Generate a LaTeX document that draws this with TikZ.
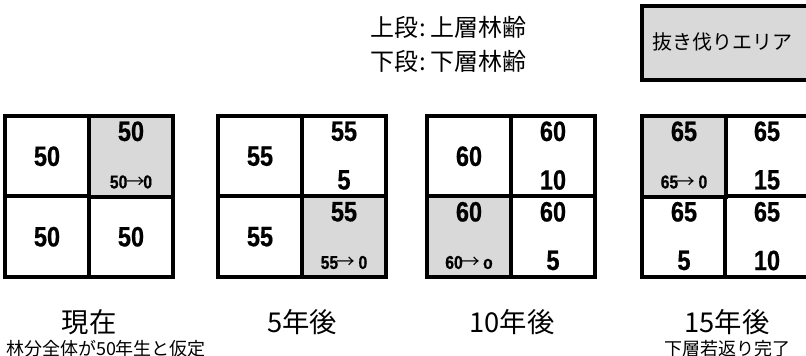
\documentclass[tikz,border=0pt]{standalone}
\usepackage{fontspec}
\newfontfamily\jp{Noto Sans CJK JP}
\newfontfamily\numf{Liberation Sans}[FakeStretch=0.84,FakeBold=0.6]
\newcommand\myarrow{{\jp\mdseries\kern-1pt→\kern-1pt}}
\definecolor{cutgray}{HTML}{D9D9D9}
\begin{document}
\begin{tikzpicture}[x=0.75pt,y=-0.75pt,
  cell/.style={draw, line width=3pt, fill=white, minimum width=63pt, minimum height=60.4pt, inner sep=0pt,
    font=\numf\bfseries\fontsize{21}{21}\selectfont},
  cut/.style={cell, fill=cutgray},
  big/.style={font=\numf\bfseries\fontsize{21}{21}\selectfont, inner sep=0pt},
  small/.style={font=\numf\bfseries\fontsize{14}{14}\selectfont, inner sep=0pt},
  up/.style={big, yshift=-13pt},
  low/.style={big, yshift=-49.5pt},
  arr/.style={small, yshift=-51pt},
  legtext/.style={font=\jp\fontsize{18}{18}\selectfont, inner sep=0pt},
  title/.style={font=\jp\fontsize{20.5}{20.5}\selectfont, inner sep=0pt},
  sub/.style={font=\jp\fontsize{13.5}{13.5}\selectfont, inner sep=0pt}]
\useasboundingbox (0,0) rectangle (806,356);
\fill[white] (0,0) rectangle (806,356);

% legend
\node[legtext] (leg1) at (448,27) {上段\kern1pt:\kern3pt上層林齢};
\node[legtext] (leg2) at (448,61) {下段\kern1pt:\kern3pt下層林齢};
\node[draw, line width=3pt, fill=cutgray, minimum width=129.75pt, minimum height=55.5pt] (legbox) at (728.5,43) {};
\node[font=\jp\fontsize{15}{15}\selectfont, inner sep=0pt] (legtxt) at (722,42) {抜き伐りエリア};

% grid 1 : now
\node[cell] (a11) at (47,156.25) {50};
\node[cell] (a21) at (47,236.75) {50};
\node[cell] (a22) at (131,236.75) {50};
\node[cut] (a12) at (131,156.25) {};
\node[up] (a12u) at (a12.north) {50};
\node[arr] (a12l) at (a12.north) {50\myarrow0};

% grid 2 : 5 years
\node[cell] (b11) at (260,156.25) {55};
\node[cell] (b21) at (260,236.75) {55};
\node[cell] (b12) at (344,156.25) {};
\node[up] (b12u) at (b12.north) {55};
\node[low] (b12l) at (b12.north) {5};
\node[cut] (b22) at (344,236.75) {};
\node[up] (b22u) at (b22.north) {55};
\node[arr] (b22l) at (b22.north) {55\myarrow\ 0};

% grid 3 : 10 years
\node[cell] (c11) at (469,156.25) {60};
\node[cell] (c12) at (553,156.25) {};
\node[up] (c12u) at (c12.north) {60};
\node[low] (c12l) at (c12.north) {10};
\node[cell] (c22) at (553,236.75) {};
\node[up] (c22u) at (c22.north) {60};
\node[low] (c22l) at (c22.north) {5};
\node[cut] (c21) at (469,236.75) {};
\node[up] (c21u) at (c21.north) {60};
\node[arr] (c21l) at (c21.north) {60\myarrow\ o};

% grid 4 : 15 years
\node[cell] (d12) at (767,156.25) {};
\node[up] (d12u) at (d12.north) {65};
\node[low] (d12l) at (d12.north) {15};
\node[cell] (d21) at (684,236.75) {};
\node[up] (d21u) at (d21.north) {65};
\node[low] (d21l) at (d21.north) {5};
\node[cell] (d22) at (767,236.75) {};
\node[up] (d22u) at (d22.north) {65};
\node[low] (d22l) at (d22.north) {10};
\node[cut] (d11) at (684,156.25) {};
\node[up] (d11u) at (d11.north) {65};
\node[arr] (d11l) at (d11.north) {65\myarrow\ 0};

% captions
\node[title] (t1) at (89,322) {現在};
\node[sub] (s1) at (106,349) {林分全体が50年生と仮定};
\node[title] (t2) at (302,322) {5年後};
\node[title] (t3) at (512,322) {10年後};
\node[title] (t4) at (727,322) {15年後};
\node[sub] (s4) at (727,349) {下層若返り完了};
\end{tikzpicture}
\end{document}
